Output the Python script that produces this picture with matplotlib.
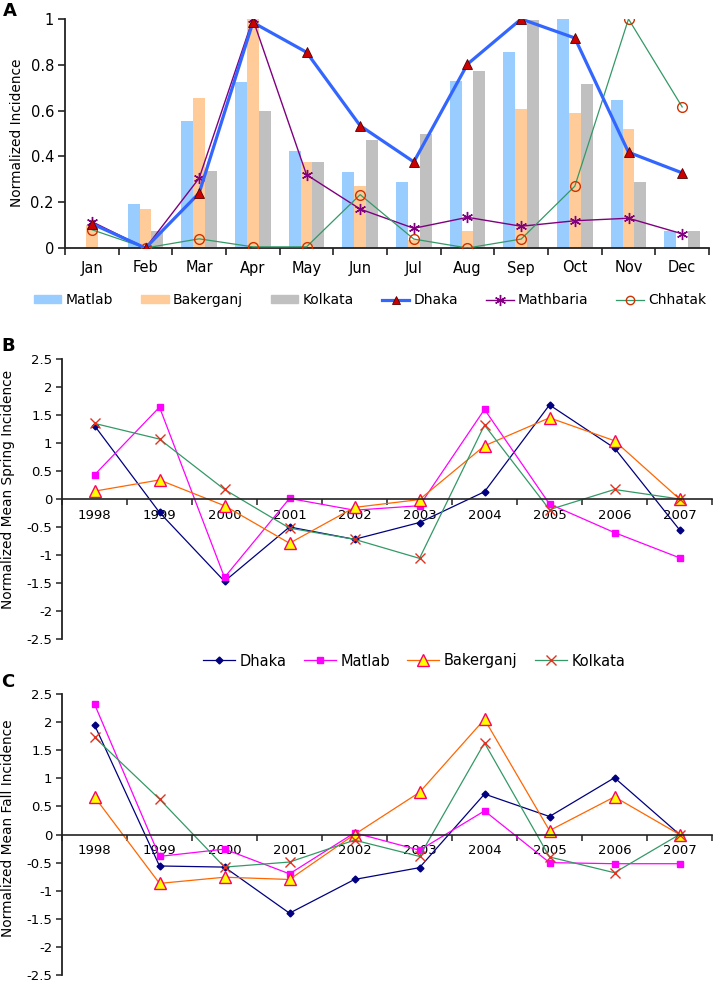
import matplotlib
matplotlib.use('Agg')
import matplotlib.pyplot as plt
import numpy as np
from matplotlib.ticker import FixedLocator, NullFormatter, FuncFormatter
from matplotlib.patches import Patch
from matplotlib.lines import Line2D

plt.rcParams['font.family'] = ['DejaVu Sans']
plt.rcParams['axes.unicode_minus'] = False

# ---------------- data ----------------
months = ['Jan', 'Feb', 'Mar', 'Apr', 'May', 'Jun', 'Jul', 'Aug', 'Sep', 'Oct', 'Nov', 'Dec']
matlab_bar = [0.0, 0.19, 0.555, 0.727, 0.424, 0.331, 0.287, 0.728, 0.854, 1.0, 0.648, 0.076]
bakerganj_bar = [0.10, 0.17, 0.653, 1.0, 0.376, 0.27, 0.035, 0.073, 0.607, 0.59, 0.521, 0.0]
kolkata_bar = [0.0, 0.075, 0.337, 0.60, 0.376, 0.47, 0.498, 0.774, 0.997, 0.716, 0.287, 0.076]
dhaka_line = [0.106, 0.0, 0.24, 0.985, 0.855, 0.534, 0.376, 0.803, 1.0, 0.917, 0.418, 0.328]
mathbaria_line = [0.115, 0.0, 0.305, 1.0, 0.32, 0.17, 0.086, 0.134, 0.095, 0.119, 0.13, 0.062]
chhatak_line = [0.08, 0.0, 0.04, 0.005, 0.005, 0.233, 0.039, 0.0, 0.039, 0.27, 1.0, 0.616]

years = ['1998', '1999', '2000', '2001', '2002', '2003', '2004', '2005', '2006', '2007']
dhaka_spring = [1.31, -0.24, -1.47, -0.50, -0.72, -0.42, 0.13, 1.68, 0.91, -0.55]
matlab_spring = [0.43, 1.64, -1.40, 0.01, -0.20, -0.12, 1.60, -0.09, -0.60, -1.05]
bakerganj_spring = [0.14, 0.34, -0.12, -0.79, -0.15, -0.01, 0.95, 1.45, 1.04, 0.0]
kolkata_spring = [1.35, 1.07, 0.17, -0.52, -0.72, -1.06, 1.32, -0.19, 0.17, 0.0]

dhaka_fall = [1.95, -0.56, -0.58, -1.40, -0.80, -0.59, 0.72, 0.32, 1.01, 0.0]
matlab_fall = [2.32, -0.39, -0.26, -0.70, 0.03, -0.28, 0.42, -0.50, -0.52, -0.52]
bakerganj_fall = [0.67, -0.87, -0.76, -0.80, 0.0, 0.75, 2.05, 0.07, 0.67, 0.0]
kolkata_fall = [1.73, 0.63, -0.58, -0.49, -0.10, -0.39, 1.63, -0.40, -0.68, 0.0]

# ---------------- styles ----------------
C_MATLAB_BAR = '#99CCFF'
C_BAKER_BAR = '#FFCC99'
C_KOLK_BAR = '#C0C0C0'
AX_COLOR = '#222222'

W, H = 714, 985
fig = plt.figure(figsize=(W / 100, H / 100), dpi=100)


def rect(left, top, right, bottom):
    return [left / W, 1 - bottom / H, (right - left) / W, (bottom - top) / H]


def style_spines(ax):
    for s in ['top', 'right']:
        ax.spines[s].set_visible(False)
    for s in ['left', 'bottom']:
        ax.spines[s].set_color(AX_COLOR)
        ax.spines[s].set_linewidth(1.3)


# ---------------- Panel A ----------------
axA = fig.add_axes(rect(65, 19, 709, 248))
x = np.arange(len(months))
bw = 0.22
axA.bar(x - bw, matlab_bar, bw, color=C_MATLAB_BAR, zorder=1)
axA.bar(x, bakerganj_bar, bw, color=C_BAKER_BAR, zorder=1)
axA.bar(x + bw, kolkata_bar, bw, color=C_KOLK_BAR, zorder=1)
axA.plot(x, dhaka_line, color='#3366FF', lw=2.3, marker='^', ms=6.5,
         mfc='#CC0000', mec='#550000', mew=0.6, zorder=4)
axA.plot(x, mathbaria_line, color='#800080', lw=1.0, marker=(6, 2, 0), ms=8,
         mec='#800080', mew=1.0, zorder=3)
axA.plot(x, chhatak_line, color='#339966', lw=0.9, marker='o', ms=7,
         mfc='none', mec='#CC3300', mew=1.0, zorder=3)
axA.set_xlim(-0.5, len(months) - 0.5)
axA.set_ylim(0, 1)
style_spines(axA)
axA.xaxis.set_major_locator(FixedLocator(np.arange(-0.5, len(months), 1)))
axA.xaxis.set_major_formatter(NullFormatter())
axA.set_xticks(x, minor=True)
axA.set_xticklabels(months, minor=True)
axA.tick_params(axis='x', which='major', length=5, width=1.2, color=AX_COLOR)
axA.tick_params(axis='x', which='minor', length=0, pad=9, labelsize=10.5)
axA.set_yticks([0, 0.2, 0.4, 0.6, 0.8, 1.0])
axA.yaxis.set_major_formatter(FuncFormatter(lambda v, p: '%g' % round(v, 2)))
axA.tick_params(axis='y', length=5, width=1.2, color=AX_COLOR, pad=3, labelsize=10.5)
fig.text(17 / W, 1 - 133 / H, 'Normalized Incidence', rotation=90,
         ha='center', va='center', fontsize=9.9)
fig.text(3 / W, 1 - 11 / H, 'A', fontsize=13, fontweight='bold', ha='left', va='center')

handlesA = [
    Patch(color=C_MATLAB_BAR, label='Matlab'),
    Patch(color=C_BAKER_BAR, label='Bakerganj'),
    Patch(color=C_KOLK_BAR, label='Kolkata'),
    Line2D([], [], color='#3366FF', lw=2.3, marker='^', ms=6, mfc='#CC0000',
           mec='#550000', mew=0.6, label='Dhaka'),
    Line2D([], [], color='#800080', lw=1.0, marker=(6, 2, 0), ms=8, mec='#800080',
           label='Mathbaria'),
    Line2D([], [], color='#339966', lw=0.9, marker='o', ms=6, mfc='none',
           mec='#CC3300', label='Chhatak'),
]
fig.legend(handles=handlesA, loc='center', bbox_to_anchor=(370 / W, 1 - 300 / H),
           ncol=6, frameon=False, fontsize=10, handlelength=2.0, handleheight=0.5,
           handletextpad=0.3, columnspacing=2.0)

# ---------------- Panels B and C ----------------
series_styles = [
    dict(label='Dhaka', color='#000080', lw=0.9, marker='D', ms=3.5, mfc='#000080', mec='#000080'),
    dict(label='Matlab', color='#FF00FF', lw=0.9, marker='s', ms=4.5, mfc='#FF00FF', mec='#FF00FF'),
    dict(label='Bakerganj', color='#FF6600', lw=0.9, marker='^', ms=8, mfc='#FFFF00', mec='#FF0066', mew=1.0),
    dict(label='Kolkata', color='#339966', lw=0.9, marker='x', ms=7.5, mec='#DD3322', mew=1.0),
]


def line_panel(ax, data):
    xx = np.arange(len(years))
    lines = []
    for vals, st in zip(data, series_styles):
        ln, = ax.plot(xx, vals, **st)
        lines.append(ln)
    ax.set_xlim(-0.5, len(years) - 0.5)
    ax.set_ylim(-2.5, 2.5)
    style_spines(ax)
    ax.spines['bottom'].set_position(('data', 0))
    ax.spines['bottom'].set_linewidth(1.2)
    ax.xaxis.set_major_locator(FixedLocator(np.arange(-0.5, len(years), 1)))
    ax.xaxis.set_major_formatter(NullFormatter())
    ax.set_xticks(xx, minor=True)
    ax.set_xticklabels(years, minor=True)
    ax.tick_params(axis='x', which='major', length=4, width=1.1, color=AX_COLOR)
    ax.tick_params(axis='x', which='minor', length=0, pad=7, labelsize=9.5)
    ax.set_yticks(np.arange(-2.5, 2.51, 0.5))
    ax.yaxis.set_major_formatter(FuncFormatter(lambda v, p: '%g' % round(v, 2)))
    ax.tick_params(axis='y', length=4, width=1.1, color=AX_COLOR, pad=3, labelsize=9.5)
    return lines


axB = fig.add_axes(rect(62, 359, 712, 639))
linesB = line_panel(axB, [dhaka_spring, matlab_spring, bakerganj_spring, kolkata_spring])
fig.text(8 / W, 1 - 489 / H, 'Normalized Mean Spring Incidence', rotation=90,
         ha='center', va='center', fontsize=9.9)
fig.text(1 / W, 1 - 346 / H, 'B', fontsize=13, fontweight='bold', ha='left', va='center')

fig.legend(handles=linesB, loc='center', bbox_to_anchor=(414 / W, 1 - 661 / H),
           ncol=4, frameon=False, fontsize=10.5, handlelength=2.2,
           handletextpad=0.3, columnspacing=1.2)

axC = fig.add_axes(rect(62, 694, 712, 975))
line_panel(axC, [dhaka_fall, matlab_fall, bakerganj_fall, kolkata_fall])
fig.text(8 / W, 1 - 828 / H, 'Normalized Mean Fall Incidence', rotation=90,
         ha='center', va='center', fontsize=9.9)
fig.text(1 / W, 1 - 682 / H, 'C', fontsize=13, fontweight='bold', ha='left', va='center')

fig.savefig('out.png', dpi=100)
